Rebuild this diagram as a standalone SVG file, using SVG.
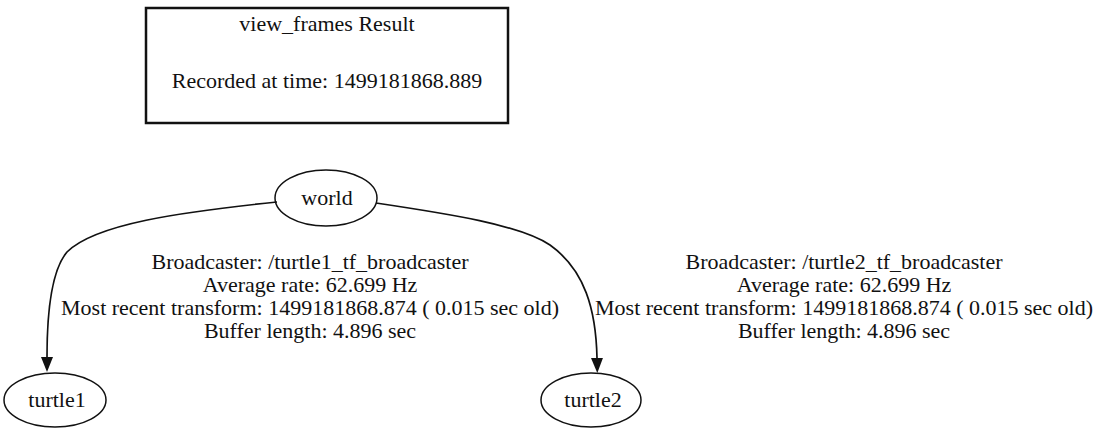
<svg xmlns="http://www.w3.org/2000/svg" width="1098" height="432" viewBox="0 0 1098 432">
<style>
text{font-family:"Liberation Serif","Times New Roman",serif;font-size:22px;fill:#111;text-anchor:middle}
.node{fill:none;stroke:#111;stroke-width:1.5}
.edge{fill:none;stroke:#111;stroke-width:1.7}
</style>
<defs>
<marker id="arr" viewBox="0 0 15 12" refX="0" refY="6" markerWidth="15" markerHeight="12" markerUnits="userSpaceOnUse" orient="auto">
<path d="M0,0 L15,6 L0,12 Z" fill="#111"/>
</marker>
</defs>
<rect width="1098" height="432" fill="#fff"/>
<g id="header">
<rect x="146" y="8" width="362" height="115" fill="none" stroke="#111" stroke-width="2.5"/>
<text x="327" y="31">view_frames Result</text>
<text x="327" y="88">Recorded at time: 1499181868.889</text>
</g>
<g id="connectors">
<path class="edge" d="M277,202 C180,212 95,224 67,252 C50,272 47,320 47,357" marker-end="url(#arr)"/>
<path class="edge" d="M376,203 C450,214 520,225 550,245 C585,270 596,310 597,358" marker-end="url(#arr)"/>
<g id="label-turtle1">
<text x="310" y="269">Broadcaster: /turtle1_tf_broadcaster</text>
<text x="310" y="292">Average rate: 62.699 Hz</text>
<text x="310" y="315">Most recent transform: 1499181868.874 ( 0.015 sec old)</text>
<text x="310" y="338">Buffer length: 4.896 sec</text>
</g>
<g id="label-turtle2">
<text x="844" y="269">Broadcaster: /turtle2_tf_broadcaster</text>
<text x="844" y="292">Average rate: 62.699 Hz</text>
<text x="844" y="315">Most recent transform: 1499181868.874 ( 0.015 sec old)</text>
<text x="844" y="338">Buffer length: 4.896 sec</text>
</g>
</g>
<g id="world">
<ellipse class="node" cx="326" cy="198" rx="51" ry="28"/>
<text x="327" y="205">world</text>
</g>
<g id="turtle1">
<ellipse class="node" cx="55" cy="400" rx="51" ry="27"/>
<text x="57" y="407">turtle1</text>
</g>
<g id="turtle2">
<ellipse class="node" cx="591" cy="400" rx="50" ry="27"/>
<text x="593" y="407">turtle2</text>
</g>
</svg>
